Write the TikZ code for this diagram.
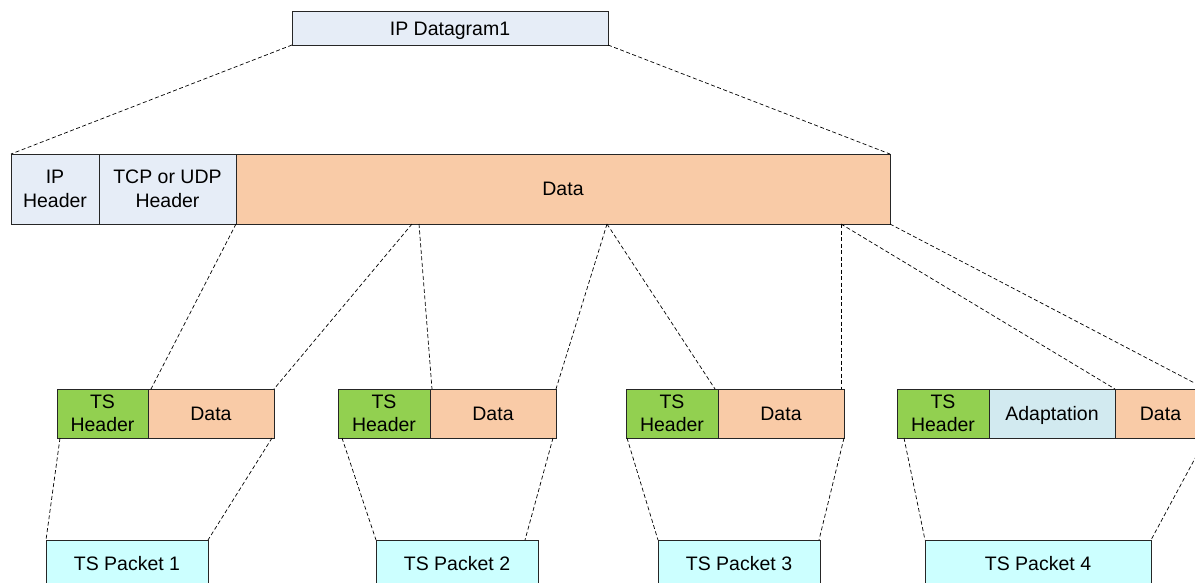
\documentclass[tikz,border=0pt]{standalone}
\usepackage{fontspec}
\setmainfont{Liberation Sans}
\usetikzlibrary{calc}
\definecolor{ipblue}{HTML}{E6EDF7}
\definecolor{peach}{HTML}{F9CBA7}
\definecolor{tsgreen}{HTML}{92D050}
\definecolor{adapt}{HTML}{D2EAF0}
\definecolor{pkt}{HTML}{CCFFFF}
\definecolor{edge}{HTML}{262626}
\tikzset{
  box/.style={draw=edge, line width=0.9pt, rectangle, inner sep=0pt, outer sep=0pt,
    anchor=north west, align=center,
    font=\fontsize{19.5}{23.5}\selectfont},
  oneline/.style={text height=14pt, text depth=0pt},
  link/.style={draw=black, line width=0.7pt, dash pattern=on 4pt off 2.5pt}
}
\begin{document}
\begin{tikzpicture}[x=1pt,y=-1pt]
\useasboundingbox (0,0) rectangle (1195,582);
\clip (0,0) rectangle (1195,582);
% top
\node[box, oneline, fill=ipblue, minimum width=316pt, minimum height=34pt] (dg) at (292,11) {IP Datagram1};
% row 2
\node[box, fill=ipblue, minimum width=88pt, minimum height=70pt] (iph) at (11,154) {IP\\Header};
\node[box, fill=ipblue, minimum width=137pt, minimum height=70pt] (tcp) at (99,154) {TCP or UDP\\Header};
\node[box, fill=peach, minimum width=654pt, minimum height=70pt] (data0) at (236,154) {Data};
% row 3
\node[box, fill=tsgreen, minimum width=91pt, minimum height=49pt] (h1) at (57,389) {TS\\Header};
\node[box, fill=peach, minimum width=126pt, minimum height=49pt] (d1) at (148,389) {Data};
\node[box, fill=tsgreen, minimum width=92pt, minimum height=49pt] (h2) at (338,389) {TS\\Header};
\node[box, fill=peach, minimum width=126pt, minimum height=49pt] (d2) at (430,389) {Data};
\node[box, fill=tsgreen, minimum width=92pt, minimum height=49pt] (h3) at (626,389) {TS\\Header};
\node[box, fill=peach, minimum width=126pt, minimum height=49pt] (d3) at (718,389) {Data};
\node[box, fill=tsgreen, minimum width=92pt, minimum height=49pt] (h4) at (897,389) {TS\\Header};
\node[box, oneline, fill=adapt, minimum width=126pt, minimum height=49pt] (a4) at (989,389) {Adaptation};
\node[box, fill=peach, minimum width=91pt, minimum height=49pt] (d4) at (1115,389) {Data};
% packets
\node[box, fill=pkt, minimum width=162pt, minimum height=48pt] (p1) at (46,540) {TS Packet 1};
\node[box, fill=pkt, minimum width=162pt, minimum height=48pt] (p2) at (376,540) {TS Packet 2};
\node[box, fill=pkt, minimum width=162pt, minimum height=48pt] (p3) at (658,540) {TS Packet 3};
\node[box, fill=pkt, minimum width=226pt, minimum height=48pt] (p4) at (925,540) {TS Packet 4};
% connectors top
\draw[link] (dg.south west) -- (iph.north west);
\draw[link] (dg.south east) -- (data0.north east);
% row2 -> row3
\draw[link] (tcp.south east) -- ([xshift=3pt]h1.north east);
\draw[link] ([xshift=176pt]data0.south west) -- (d1.north east);
\draw[link] ([xshift=183pt]data0.south west) -- ([xshift=2pt]h2.north east);
\draw[link] ([xshift=371pt]data0.south west) -- (d2.north east);
\draw[link] ([xshift=371pt]data0.south west) -- ([xshift=-3pt]h3.north east);
\draw[link] ([xshift=605pt]data0.south west) -- ([xshift=-3pt]d3.north east);
\draw[link] ([xshift=605pt]data0.south west) -- (a4.north east);
\draw[link] (data0.south east) -- (d4.north east);
% row3 -> packets
\draw[link] ([xshift=3pt]h1.south west) -- (p1.north west);
\draw[link] ([xshift=-2pt]d1.south east) -- (p1.north east);
\draw[link] ([xshift=4pt]h2.south west) -- (p2.north west);
\draw[link] ([xshift=-3pt]d2.south east) -- ([xshift=-13pt]p2.north east);
\draw[link] ([xshift=1pt]h3.south west) -- (p3.north west);
\draw[link] (d3.south east) -- ([xshift=-1pt]p3.north east);
\draw[link] ([xshift=7pt]h4.south west) -- (p4.north west);
\draw[link] (d4.south east) -- (p4.north east);
\end{tikzpicture}
\end{document}
